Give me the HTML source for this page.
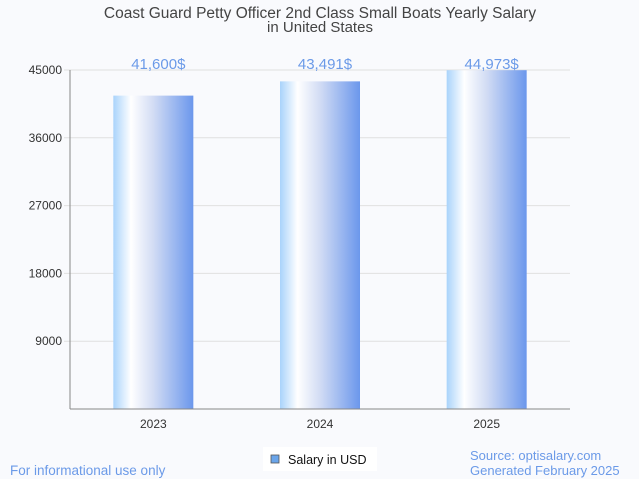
<!DOCTYPE html>
<html><head><meta charset="utf-8"><style>
html,body{margin:0;padding:0;background:#f9fafd;}
svg{display:block;font-family:"Liberation Sans",sans-serif;}
</style></head><body>
<svg id="chart" width="639" height="479" viewBox="0 0 639 479">
<defs>
<linearGradient id="bg" x1="0" x2="1" y1="0" y2="0">
<stop offset="0" stop-color="#a9d3fb"/>
<stop offset="0.22" stop-color="#ffffff"/>
<stop offset="0.5" stop-color="#d2dcf4"/>
<stop offset="1" stop-color="#6b97ec"/>
</linearGradient>
</defs>
<rect width="639" height="479" fill="#f9fafd"/>
<text x="320" y="18" text-anchor="middle" font-size="15.5" fill="#444">Coast Guard Petty Officer 2nd Class Small Boats Yearly Salary</text>
<text x="320" y="32" text-anchor="middle" font-size="15" fill="#444">in United States</text>
<g id="grid"></g>
<g id="bars"></g>
<line x1="70" y1="409" x2="570" y2="409" stroke="#888" stroke-width="1"/>
<line x1="70" y1="70" x2="70" y2="409" stroke="#888" stroke-width="1"/>
<g>
<rect x="263" y="447" width="114" height="24" fill="#ffffff"/>
<rect x="271" y="455" width="8" height="8" fill="#6aa5ea" stroke="#555" stroke-width="0.8"/>
<text x="288" y="464" font-size="12.5" fill="#111">Salary in USD</text>
</g>
<text x="10" y="475" font-size="13.5" fill="#6b9ae8">For informational use only</text>
<text x="470" y="460" font-size="13" fill="#6b9ae8">Source: optisalary.com</text>
<text x="470" y="475" font-size="13" fill="#6b9ae8">Generated February 2025</text>
</svg>
<script>
const categories = ["2023","2024","2025"];
const salaries = [41600, 43491, 44973];
const valueLabels = ["41,600$","43,491$","44,973$"];
const yTicks = [9000, 18000, 27000, 36000, 45000];
const NS = "http://www.w3.org/2000/svg";
const x0 = 70, x1 = 570, yBase = 409, yTop = 70, yMax = 45000;
function yS(v){ return yBase - (v / yMax) * (yBase - yTop); }
function xC(i){ return x0 + (x1 - x0) * (i + 0.5) / categories.length; }
function mk(tag, attrs, parent){ const e = document.createElementNS(NS, tag); for (const k in attrs) e.setAttribute(k, attrs[k]); parent.appendChild(e); return e; }
const grid = document.getElementById("grid");
yTicks.forEach(t => {
  const y = yS(t);
  const l = mk("line", {x1: x0 - 6, x2: x1, y1: y, y2: y, stroke: "#e0e0e0", "stroke-width": 1}, grid);
  
  
  const tx = mk("text", {x: x0 - 8, y: y + 4, "text-anchor": "end", "font-size": 12, fill: "#333"}, grid);
  tx.textContent = t;
  
  
});
const bars = document.getElementById("bars");
const bw = 80;
categories.forEach((c, i) => {
  const cx = xC(i), y = yS(salaries[i]);
  const r = mk("rect", {x: cx - bw / 2, y: y, width: bw, height: yBase - y, fill: "url(#bg)"}, bars);
  
  
  const v = mk("text", {x: cx + 5, y: 69, "text-anchor": "middle", "font-size": 15, fill: "#6b9ae8"}, bars);
  v.textContent = valueLabels[i];
  
  
  const xl = mk("text", {x: cx, y: 428, "text-anchor": "middle", "font-size": 12, fill: "#333"}, bars);
  xl.textContent = c;
  
  
});
</script>
</body></html>
